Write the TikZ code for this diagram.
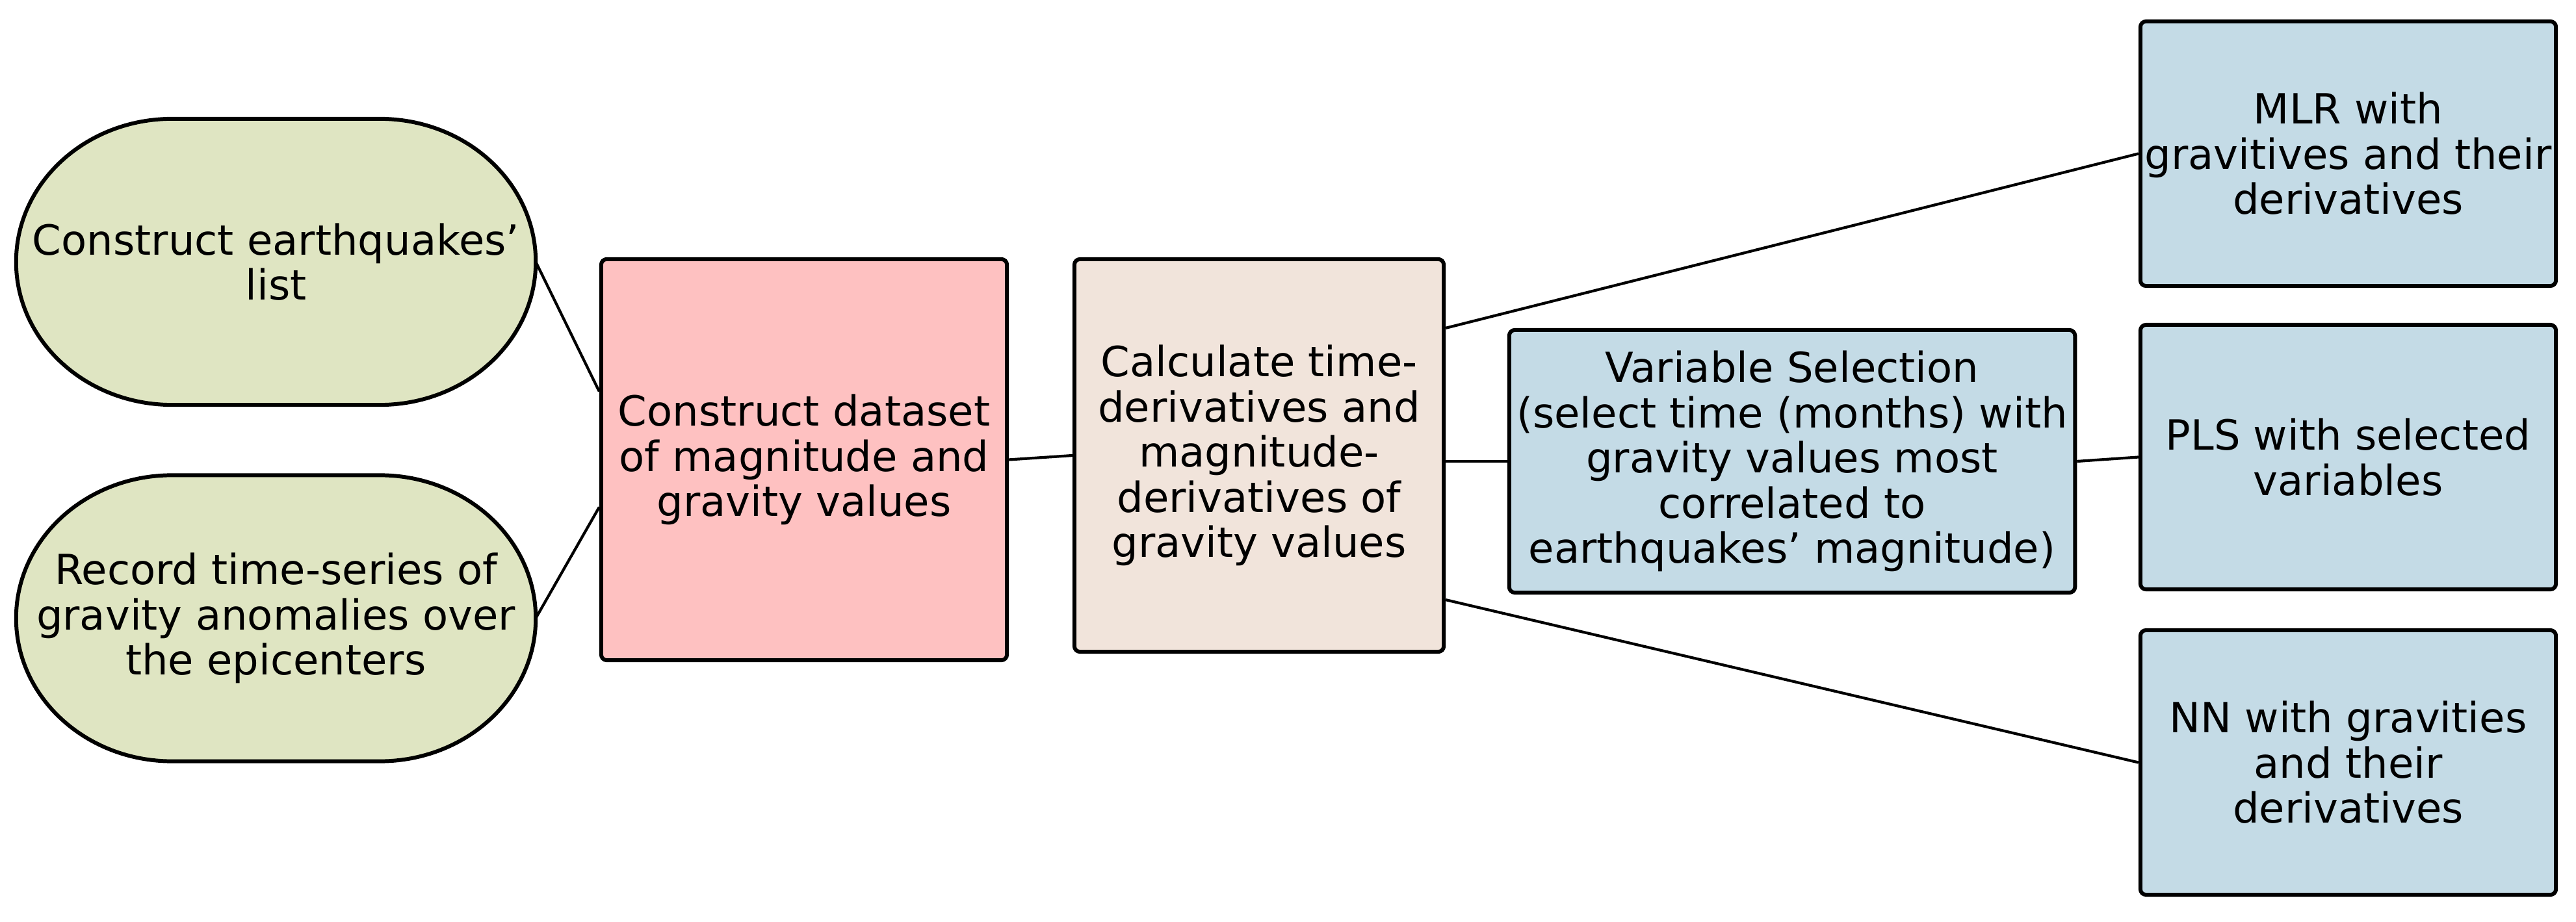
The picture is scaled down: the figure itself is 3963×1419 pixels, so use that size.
\documentclass[tikz,border=0pt]{standalone}
\usepackage{fontspec}
\setmainfont{DejaVu Sans}
\usetikzlibrary{backgrounds}
\definecolor{olivefill}{HTML}{DFE5C2}
\definecolor{pinkfill}{HTML}{FEC1C1}
\definecolor{beigefill}{HTML}{F1E4DB}
\definecolor{bluefill}{HTML}{C4DBE6}
\tikzset{
  base/.style={draw=black, line width=1.7pt, align=center, inner sep=0pt,
    font=\fontsize{18.2}{19.8}\selectfont},
  oval/.style={base, draw=none, rectangle, outer sep=0pt, minimum width=7.99cm, minimum height=4.4cm},
  ovalline/.style={draw=black, fill=olivefill, line width=1.7pt},
  box/.style={base, rectangle, rounded corners=2.5pt},
  link/.style={draw=black, line width=1.2pt}
}
\newcommand{\ovalpath}[1]{%
  \path[ovalline] ([xshift=2.4cm]#1.north west) -- ([xshift=-2.4cm]#1.north east)
    arc[start angle=90, end angle=-90, x radius=2.4cm, y radius=2.2cm]
    -- ([xshift=2.4cm]#1.south west)
    arc[start angle=270, end angle=90, x radius=2.4cm, y radius=2.2cm]
    -- cycle;}
\begin{document}
\begin{tikzpicture}[x=0.01cm, y=-0.01cm]
\useasboundingbox (0,0) rectangle (3963,1419);
\node[oval] (e1) at (424.5,403) {Construct earthquakes’\\list};
\node[oval] (e2) at (424.5,951.5) {Record time-series of\\gravity anomalies over\\the epicenters};
\begin{scope}[on background layer]
  \ovalpath{e1}
  \ovalpath{e2}
\end{scope}
\node[box, fill=pinkfill, minimum width=6.24cm, minimum height=6.17cm] (pink) at (1237,707.5)
  {Construct dataset\\of magnitude and\\gravity values};
\node[box, fill=beigefill, minimum width=5.68cm, minimum height=6.04cm] (beige) at (1937,701)
  {Calculate time-\\derivatives and\\magnitude-\\derivatives of\\gravity values};
\node[box, fill=bluefill, minimum width=8.7cm, minimum height=4.04cm] (vs) at (2757,710)
  {Variable Selection\\(select time (months) with\\gravity values most\\correlated to\\earthquakes’ magnitude)};
\node[box, fill=bluefill, minimum width=6.39cm, minimum height=4.07cm] (mlr) at (3612.5,236.5)
  {MLR with\\gravitives and their\\derivatives};
\node[box, fill=bluefill, minimum width=6.39cm, minimum height=4.07cm] (pls) at (3612.5,703.5)
  {PLS with selected\\variables};
\node[box, fill=bluefill, minimum width=6.39cm, minimum height=4.07cm] (nn) at (3612.5,1173.5)
  {NN with gravities\\and their\\derivatives};
\draw[link] (e1.east) -- ([yshift=1.05cm]pink.west);
\draw[link] (e2.east) -- ([yshift=-0.73cm]pink.west);
\draw[link] (pink.east) -- (beige.west);
\draw[link] ([yshift=1.96cm]beige.east) -- (mlr.west);
\draw[link] (vs.west -| beige.east) -- (vs.west);
\draw[link] ([yshift=-2.22cm]beige.east) -- (nn.west);
\draw[link] (vs.east) -- (pls.west);
\end{tikzpicture}
\end{document}
